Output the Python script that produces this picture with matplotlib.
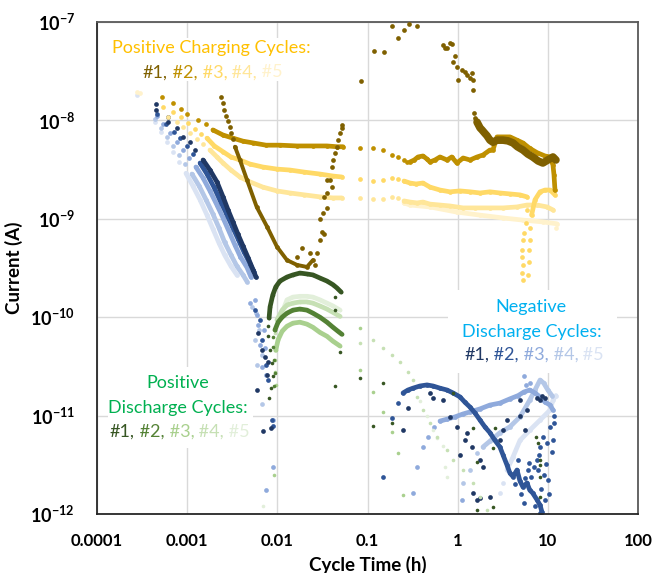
import numpy as np
import matplotlib
matplotlib.use("Agg")
import matplotlib.pyplot as plt
from matplotlib.patches import Rectangle

plt.rcParams['font.family'] = ['Lato', 'DejaVu Sans']
plt.rcParams['mathtext.fontset'] = 'custom'
plt.rcParams['mathtext.bf'] = 'Lato:bold'
plt.rcParams['mathtext.rm'] = 'Lato'

# ---------------- data: (cycle time in h, current in A) ----------------
# Positive charging cycles
chg1_dots = [(2.37e-3, 1.73e-8), (2.5e-3, 1.5e-8), (2.56e-3, 1.28e-8), (2.7e-3, 1.12e-8),
             (2.84e-3, 9.8e-9), (2.97e-3, 8.5e-9), (3.06e-3, 7.4e-9), (3.22e-3, 6.4e-9),
             (2.75e-2, 4.5e-10), (2.97e-2, 6.1e-10), (3.1e-2, 7.3e-10), (3.21e-2, 1.15e-9),
             (3.55e-2, 1.3e-9), (3.3e-2, 1.67e-9), (3.6e-2, 1.83e-9), (3.55e-2, 2.5e-9),
             (3.84e-2, 2.5e-9), (4.04e-2, 3.36e-9), (4.14e-2, 3.96e-9), (4.36e-2, 4.7e-9),
             (4.59e-2, 5.4e-9), (4.7e-2, 6.3e-9), (4.95e-2, 7.4e-9), (5.2e-2, 8.4e-9),
             (5.2e-2, 9.0e-9), (1.65e-2, 4.1e-10), (1.9e-2, 5.1e-10), (2.3e-2, 4.5e-10),
             (3.0e-2, 1.0e-9), (3.3e-2, 7.0e-10), (4.0e-2, 2.1e-9), (2.6e-2, 3.4e-10),
             (8.5e-2, 2.51e-8), (0.118, 5.1e-8), (0.152, 5.0e-8), (0.187, 9.1e-8),
             (0.218, 6.9e-8), (0.254, 8.3e-8), (0.288, 9.5e-8), (0.354, 9.1e-8),
             (0.687, 5.8e-8), (0.72, 5.5e-8), (0.762, 5.4e-8), (0.822, 6.1e-8),
             (0.86, 6.0e-8), (0.933, 4.5e-8), (0.887, 3.9e-8), (0.98, 3.5e-8),
             (1.01, 2.57e-8), (1.12, 3.25e-8), (1.2, 3.1e-8), (1.27, 2.89e-8),
             (1.37, 2.7e-8), (1.44, 3.03e-8), (1.48, 2.57e-8), (1.48, 2.04e-8),
             (1.52, 1.19e-8), (1.56, 1.06e-8), (1.6, 1.0e-8)]
chg1_curves = [
    [(3.39e-3, 5.4e-9), (3.85e-3, 3.96e-9), (4.61e-3, 2.48e-9), (5.9e-3, 1.32e-9),
     (7.7e-3, 8.3e-10), (9.9e-3, 5.2e-10), (1.28e-2, 3.8e-10), (1.65e-2, 3.4e-10),
     (2.13e-2, 3.24e-10), (2.48e-2, 3.8e-10)],
]
chg1_late = [(1.64, 9.6e-9), (1.77, 8.4e-9), (1.86, 8.0e-9), (2.0, 7.4e-9), (2.11, 7.0e-9),
             (2.28, 6.3e-9), (2.46, 6.0e-9), (2.73, 6.3e-9), (3.18, 6.3e-9), (3.6, 6.2e-9),
             (4.11, 5.9e-9), (4.6, 5.4e-9), (5.3, 5.0e-9), (6.0, 4.55e-9), (6.8, 4.25e-9),
             (7.8, 3.87e-9), (8.8, 3.69e-9), (10.0, 3.96e-9), (11.4, 4.25e-9), (12.3, 3.96e-9)]
chg2_dots = [(5.26e-4, 1.73e-8), (7.0e-4, 1.5e-8), (8.5e-4, 1.31e-8), (1.0e-3, 1.16e-8),
             (1.32e-3, 1.01e-8), (1.62e-3, 9.2e-9),
             (8.3e-2, 5.2e-9), (0.115, 5.2e-9), (0.149, 5.0e-9), (0.187, 4.45e-9),
             (0.218, 4.25e-9), (0.254, 3.96e-9), (0.274, 3.78e-9)]
chg2_curves = [
    [(1.93e-3, 8.0e-9), (2.5e-3, 7.1e-9), (3.22e-3, 6.6e-9), (4.16e-3, 6.15e-9),
     (5.4e-3, 5.9e-9), (7.5e-3, 5.6e-9), (1.07e-2, 5.6e-9), (1.65e-2, 5.5e-9),
     (2.48e-2, 5.5e-9), (3.55e-2, 5.5e-9), (4.59e-2, 5.4e-9), (5.35e-2, 5.4e-9)],
    [(0.296, 3.78e-9), (0.33, 3.96e-9), (0.363, 4.25e-9), (0.412, 4.35e-9), (0.457, 4.05e-9),
     (0.493, 3.78e-9), (0.56, 3.96e-9), (0.637, 4.25e-9), (0.762, 3.96e-9), (0.86, 4.25e-9),
     (0.98, 3.69e-9), (1.15, 4.15e-9), (1.37, 3.96e-9), (1.64, 4.25e-9), (1.91, 4.45e-9),
     (2.28, 5.0e-9), (2.46, 5.0e-9), (2.73, 6.8e-9), (3.18, 6.8e-9), (3.8, 6.8e-9),
     (4.55, 6.3e-9), (5.3, 5.9e-9), (6.3, 5.2e-9), (7.6, 4.7e-9), (9.3, 4.35e-9),
     (10.6, 4.25e-9), (11.4, 3.52e-9), (11.7, 2.8e-9), (12.0, 1.96e-9)],
]
chg3_dots = [(5.4e-4, 1.37e-8), (7.0e-4, 1.22e-8), (8.5e-4, 1.08e-8), (1.03e-3, 9.4e-9),
             (1.22e-3, 8.2e-9), (1.43e-3, 7.3e-9),
             (8.3e-2, 2.54e-9), (0.115, 2.42e-9), (0.149, 2.48e-9), (0.187, 2.6e-9),
             (0.218, 2.54e-9),
             (5.87, 1.23e-9), (5.7, 9.1e-10), (5.44, 7.2e-10), (5.3, 6.1e-10), (5.17, 4.8e-10),
             (5.17, 4.1e-10), (5.3, 3.4e-10), (5.17, 2.81e-10), (5.3, 2.39e-10), (6.0, 2.69e-10),
             (6.2, 3.6e-10), (6.2, 4.8e-10), (6.3, 6.1e-10), (6.3, 8.0e-10)]
chg3_curves = [
    [(1.66e-3, 6.6e-9), (2.0e-3, 5.5e-9), (2.5e-3, 4.8e-9), (3.06e-3, 4.25e-9),
     (3.85e-3, 3.96e-9), (4.98e-3, 3.6e-9), (6.9e-3, 3.36e-9), (9.9e-3, 3.2e-9),
     (1.38e-2, 3.13e-9), (2.0e-2, 2.98e-9), (2.97e-2, 2.85e-9), (4.14e-2, 2.72e-9),
     (5.2e-2, 2.66e-9)],
    [(0.254, 2.42e-9), (0.296, 2.31e-9), (0.345, 2.26e-9), (0.412, 2.31e-9), (0.493, 2.1e-9),
     (0.637, 1.96e-9), (0.822, 1.88e-9), (1.06, 1.92e-9), (1.37, 1.88e-9), (1.77, 1.83e-9),
     (2.28, 1.88e-9), (2.94, 1.83e-9), (3.8, 1.79e-9), (4.91, 1.75e-9), (5.87, 1.67e-9)],
    [(6.6, 1.09e-9), (7.2, 1.56e-9), (8.2, 1.88e-9), (9.3, 1.96e-9), (10.6, 1.96e-9),
     (12.0, 1.75e-9)],
]
chg4_dots = [(6.1e-4, 1.08e-8), (7.7e-4, 9.6e-9), (9.0e-4, 8.6e-9), (1.07e-3, 7.4e-9),
             (1.29e-3, 6.5e-9), (1.5e-3, 5.8e-9),
             (8.3e-2, 1.63e-9), (0.115, 1.59e-9), (0.149, 1.59e-9), (0.187, 1.67e-9),
             (0.218, 1.63e-9)]
chg4_curves = [
    [(1.79e-3, 5.0e-9), (2.14e-3, 4.25e-9), (2.5e-3, 3.69e-9), (3.06e-3, 3.13e-9),
     (3.85e-3, 2.66e-9), (4.98e-3, 2.37e-9), (6.9e-3, 2.1e-9), (9.9e-3, 1.92e-9),
     (1.38e-2, 1.83e-9), (2.0e-2, 1.75e-9), (2.97e-2, 1.67e-9), (4.14e-2, 1.63e-9),
     (5.2e-2, 1.63e-9)],
    [(0.254, 1.52e-9), (0.296, 1.48e-9), (0.354, 1.45e-9), (0.412, 1.48e-9), (0.493, 1.41e-9),
     (0.637, 1.38e-9), (0.822, 1.35e-9), (1.15, 1.29e-9), (1.56, 1.29e-9), (2.28, 1.29e-9),
     (3.18, 1.29e-9), (4.55, 1.32e-9), (5.87, 1.38e-9), (7.6, 1.38e-9), (9.8, 1.32e-9),
     (11.4, 1.23e-9)],
]
chg5_dots = [(2.78e-4, 1.94e-8), (3.0e-4, 1.9e-8), (12.3, 8.0e-10)]
chg5_curves = [
    [(0.254, 1.45e-9), (0.296, 1.38e-9), (0.493, 1.32e-9), (0.98, 1.17e-9), (1.77, 1.09e-9),
     (3.18, 1.02e-9), (5.3, 9.7e-10), (8.8, 9.3e-10), (12.6, 8.9e-10)],
]

# Positive discharge cycles
pdis1_dots = [(8.9e-3, 2.5e-11), (8.7e-3, 3.4e-11), (8.3e-3, 4.6e-11), (7.9e-3, 6.5e-11),
              (7.9e-3, 8.1e-11), (8.5e-3, 1.9e-11), (8.0e-3, 1.5e-11),
              (4.36e-2, 1.6e-10), (4.36e-2, 1.18e-10), (4.95e-2, 4.4e-11),
              (4.36e-2, 2.0e-11), (8.3e-2, 2.4e-11), (0.149, 2.14e-11), (0.115, 7.8e-12),
              (0.187, 8.4e-12), (0.887, 1.7e-11), (1.48, 7.5e-12), (1.64, 3.4e-12),
              (2.46, 4.7e-12), (2.59, 7.5e-12), (8.2, 3.5e-12), (8.2, 2.4e-12),
              (8.2, 1.49e-12), (1.64, 1.1e-12), (2.46, 1.18e-12), (8.2, 3.15e-12),
              (7.4, 6.1e-12), (7.8, 5.3e-12)]
pdis1_curves = [
    [(8.1e-3, 9.8e-11), (8.3e-3, 1.27e-10), (8.9e-3, 1.68e-10), (9.6e-3, 2.03e-10),
     (1.07e-2, 2.33e-10), (1.28e-2, 2.56e-10), (1.49e-2, 2.69e-10), (1.78e-2, 2.81e-10),
     (2.13e-2, 2.75e-10), (2.48e-2, 2.69e-10), (2.97e-2, 2.5e-10), (3.55e-2, 2.33e-10),
     (4.14e-2, 2.14e-10), (4.59e-2, 1.98e-10), (5.1e-2, 1.8e-10)],
]
pdis2_dots = [(9.4e-3, 2.7e-11), (9.1e-3, 3.7e-11), (8.9e-3, 5.0e-11), (8.9e-3, 6.3e-11),
              (9.2e-3, 2.0e-11)]
pdis2_curves = [
    [(9.4e-3, 7.4e-11), (1.02e-2, 8.9e-11), (1.13e-2, 1.0e-10), (1.28e-2, 1.1e-10),
     (1.49e-2, 1.18e-10), (1.78e-2, 1.21e-10), (2.13e-2, 1.18e-10), (2.48e-2, 1.1e-10),
     (2.97e-2, 1.0e-10), (3.55e-2, 8.9e-11), (4.14e-2, 7.9e-11), (4.7e-2, 7.2e-11),
     (5.2e-2, 6.7e-11)],
]
pdis3_dots = [(9.6e-3, 2.05e-11), (9.4e-3, 2.8e-11), (9.4e-3, 3.7e-11), (9.1e-3, 2.5e-12),
              (8.3e-2, 2.9e-11), (0.115, 1.74e-11), (0.149, 1.09e-11), (0.187, 6.8e-12),
              (0.218, 4.2e-12), (0.248, 1.56e-12), (8.3e-2, 7.8e-11)]
pdis3_curves = [
    [(9.6e-3, 4.6e-11), (1.02e-2, 5.9e-11), (1.13e-2, 7.2e-11), (1.28e-2, 8.1e-11),
     (1.49e-2, 8.7e-11), (1.78e-2, 8.9e-11), (2.13e-2, 8.5e-11), (2.48e-2, 7.9e-11),
     (2.97e-2, 7.0e-11), (3.55e-2, 6.4e-11), (4.14e-2, 5.7e-11), (4.95e-2, 5.1e-11)],
]
pdis4_dots = [(9.6e-3, 5.2e-11), (9.4e-3, 6.9e-11),
              (8.3e-2, 5.5e-11), (0.115, 5.9e-11), (0.149, 4.9e-11), (0.187, 4.1e-11),
              (0.229, 3.5e-11), (0.281, 2.8e-11), (0.319, 2.3e-11), (0.354, 1.55e-11),
              (0.412, 1.14e-11), (0.493, 8.4e-12), (0.59, 6.1e-12), (0.762, 4.5e-12),
              (0.887, 3.5e-12), (1.15, 2.8e-12), (1.48, 2.07e-12), (1.77, 1.49e-12),
              (2.11, 1.1e-12)]
pdis4_curves = [
    [(9.9e-3, 9.4e-11), (1.13e-2, 1.18e-10), (1.28e-2, 1.33e-10), (1.49e-2, 1.39e-10),
     (1.78e-2, 1.43e-10), (2.13e-2, 1.43e-10), (2.48e-2, 1.39e-10), (2.97e-2, 1.3e-10),
     (3.55e-2, 1.21e-10), (4.14e-2, 1.12e-10), (4.95e-2, 1.02e-10)],
]
pdis5_dots = [(6.9e-3, 1.2e-12), (0.382, 1.4e-11), (0.457, 1.0e-11), (0.532, 7.1e-12),
              (0.59, 5.9e-12), (0.687, 4.9e-12), (0.72, 3.0e-12), (0.762, 2.4e-12)]
pdis5_curves = [
    [(1.07e-2, 9.8e-11), (1.28e-2, 1.5e-10), (1.49e-2, 1.6e-10), (1.78e-2, 1.63e-10),
     (2.13e-2, 1.63e-10), (2.48e-2, 1.6e-10), (2.97e-2, 1.5e-10), (3.55e-2, 1.39e-10),
     (4.14e-2, 1.3e-10), (4.95e-2, 1.18e-10)],
]

# Negative discharge cycles
ndis1_dots = [(4.5e-4, 1.47e-8), (4.5e-4, 1.28e-8), (6.1e-4, 1.08e-8), (6.1e-4, 9.6e-9),
              (7.7e-4, 8.4e-9), (9.0e-4, 6.8e-9), (1.07e-3, 6.0e-9), (1.22e-3, 5.0e-9),
              (6.1e-3, 6.9e-11), (6.8e-3, 4.6e-11), (7.3e-3, 3.9e-11), (7.9e-3, 3.5e-11),
              (7.7e-3, 2.6e-11), (5.9e-3, 1.82e-11), (6.9e-3, 6.9e-12), (8.5e-3, 7.5e-12),
              (0.248, 7.1e-12), (0.281, 1.19e-11), (0.493, 1.7e-11), (0.53, 1.51e-11),
              (0.687, 1.44e-11), (0.822, 9.7e-12), (0.98, 7.7e-12), (1.27, 6.7e-12),
              (1.06, 4.0e-12), (1.44, 4.8e-12), (1.2, 5.6e-12), (1.77, 3.5e-12),
              (1.91, 3.0e-12), (1.48, 1.63e-12), (1.77, 1.46e-12), (2.28, 1.49e-12),
              (2.94, 5.6e-12), (3.52, 9.0e-12), (3.18, 7.1e-12), (4.91, 1.44e-11),
              (5.87, 1.14e-11), (8.2, 1.44e-11), (8.6, 1.6e-11), (7.6, 1.51e-11),
              (9.3, 1.51e-11), (4.91, 1.0e-11), (5.6, 7.1e-12), (1.64, 1.39e-12)]
ndis1_curves = [
    [(1.5e-3, 3.96e-9), (1.79e-3, 3.13e-9), (2.14e-3, 2.37e-9), (2.5e-3, 1.67e-9),
     (2.84e-3, 1.23e-9), (3.22e-3, 9.3e-10), (3.65e-3, 7.0e-10), (4.16e-3, 5.3e-10),
     (4.75e-3, 4.0e-10), (5.4e-3, 3.0e-10), (5.8e-3, 2.56e-10)],
]
ndis2_dots = [(4.6e-4, 1.16e-8), (5.8e-4, 9.2e-9), (7.2e-4, 7.6e-9), (8.3e-4, 6.6e-9),
              (1.0e-3, 5.5e-9), (1.16e-3, 4.55e-9),
              (5.6e-3, 1.18e-10), (6.4e-3, 9.4e-11), (6.8e-3, 5.9e-11), (7.5e-3, 3.3e-11),
              (7.9e-3, 2.3e-11), (8.7e-3, 9.0e-12), (8.9e-3, 7.8e-12),
              (0.149, 2.4e-12), (0.187, 9.5e-12), (0.218, 1.34e-11),
              (7.6, 3.5e-12), (8.2, 4.8e-12), (8.8, 6.1e-12), (9.8, 5.3e-12), (10.6, 7.7e-12),
              (11.4, 5.6e-12), (11.1, 4.3e-12), (9.0, 2.5e-12), (8.4, 1.8e-12), (7.8, 2.8e-12),
              (6.0, 2.8e-12), (5.6, 2.3e-12), (4.7, 3.5e-12), (4.3, 2.0e-12), (9.3, 1.39e-12),
              (8.2, 1.02e-12), (5.0, 1.6e-12), (5.5, 1.3e-12), (6.5, 2.4e-12), (7.0, 3.0e-12),
              (7.2, 1.2e-12), (8.0, 4.0e-12), (9.5, 3.2e-12), (10.0, 2.2e-12), (10.4, 1.6e-12),
              (6.2, 3.3e-12), (4.5, 2.6e-12), (11.8, 8.5e-12), (11.6, 1.0e-11)]
ndis2_curves = [
    [(1.39e-3, 3.69e-9), (1.66e-3, 2.85e-9), (1.98e-3, 2.1e-9), (2.3e-3, 1.56e-9),
     (2.7e-3, 1.15e-9), (3.14e-3, 8.5e-10), (3.65e-3, 6.3e-10), (4.27e-3, 4.6e-10),
     (4.98e-3, 3.5e-10), (5.5e-3, 2.9e-10)],
    [(0.248, 1.7e-11), (0.281, 1.82e-11), (0.319, 1.9e-11), (0.382, 2.0e-11), (0.457, 2.05e-11),
     (0.532, 2.0e-11), (0.637, 1.9e-11), (0.762, 1.82e-11), (0.887, 1.7e-11), (1.06, 1.55e-11),
     (1.2, 1.37e-11), (1.37, 1.22e-11), (1.56, 1.06e-11), (1.77, 9.0e-12), (2.0, 7.7e-12),
     (2.28, 6.7e-12), (2.59, 5.6e-12), (2.94, 4.8e-12), (3.18, 4.0e-12), (3.52, 3.15e-12),
     (3.8, 2.6e-12), (4.11, 2.4e-12), (4.55, 2.8e-12), (4.91, 2.16e-12), (5.3, 1.88e-12),
     (5.87, 2.07e-12), (6.3, 1.75e-12), (6.8, 1.63e-12), (7.6, 1.39e-12), (8.2, 1.23e-12),
     (8.6, 1.05e-12)],
]
ndis3_dots = [(4.6e-4, 1.11e-8), (5.4e-4, 9.2e-9), (6.5e-4, 7.4e-9), (7.7e-4, 6.0e-9),
              (9.0e-4, 5.0e-9), (1.05e-3, 4.15e-9),
              (5.0e-3, 1.39e-10), (5.6e-3, 1.5e-10), (5.9e-3, 1.05e-10), (6.1e-3, 8.3e-11),
              (7.1e-3, 7.4e-11), (6.4e-3, 5.2e-11), (7.3e-3, 4.9e-11), (6.8e-3, 3.1e-11),
              (7.5e-3, 2.6e-11), (8.9e-3, 9.0e-12), (8.9e-3, 3.0e-12), (7.5e-3, 1.75e-12),
              (0.319, 1.63e-12), (0.354, 3.0e-12), (0.412, 4.8e-12), (0.47, 6.1e-12),
              (0.545, 7.7e-12), (5.44, 2.5e-11), (5.7, 2.05e-11), (6.3, 2.14e-11),
              (1.12, 1.39e-12)]
ndis3_curves = [
    [(1.25e-3, 3.36e-9), (1.5e-3, 2.6e-9), (1.79e-3, 1.92e-9), (2.14e-3, 1.38e-9),
     (2.5e-3, 1.02e-9), (2.9e-3, 7.5e-10), (3.39e-3, 5.4e-10), (3.9e-3, 4.1e-10),
     (4.61e-3, 3.2e-10), (5.1e-3, 2.56e-10)],
    [(0.637, 8.8e-12), (0.762, 9.2e-12), (0.933, 9.7e-12), (1.15, 1.04e-11), (1.37, 1.09e-11),
     (1.77, 1.17e-11), (2.28, 1.28e-11), (2.94, 1.34e-11), (3.8, 1.48e-11), (4.7, 1.6e-11),
     (5.44, 1.74e-11), (6.3, 1.82e-11), (7.2, 1.7e-11), (8.2, 1.55e-11), (9.3, 1.37e-11),
     (10.6, 1.28e-11), (11.4, 1.14e-11)],
]
ndis4_dots = [(4.4e-4, 1.04e-8), (5.1e-4, 8.4e-9), (6.0e-4, 6.8e-9), (7.0e-4, 5.5e-9),
              (8.1e-4, 4.45e-9), (9.5e-4, 3.6e-9),
              (5.2e-3, 1.27e-10), (5.75e-3, 1.1e-10), (6.2e-3, 7.4e-11), (5.6e-3, 5.9e-11),
              (6.8e-3, 4.1e-11), (5.9e-3, 3.3e-11), (6.8e-3, 1.3e-11),
              (1.15, 2.07e-12), (1.37, 2.8e-12), (1.64, 4.2e-12)]
ndis4_curves = [
    [(1.13e-3, 2.85e-9), (1.36e-3, 2.15e-9), (1.62e-3, 1.56e-9), (1.93e-3, 1.12e-9),
     (2.25e-3, 8.1e-10), (2.6e-3, 5.8e-10), (3.06e-3, 4.3e-10), (3.56e-3, 3.3e-10),
     (4.16e-3, 2.69e-10), (4.61e-3, 2.3e-10)],
    [(1.91, 4.8e-12), (2.28, 5.5e-12), (2.94, 6.7e-12), (3.8, 7.7e-12), (4.91, 9.7e-12),
     (5.6, 1.19e-11), (6.3, 1.44e-11), (7.2, 1.82e-11), (8.2, 2.3e-11), (9.0, 2.14e-11),
     (10.0, 1.82e-11), (11.1, 1.6e-11)],
]
ndis5_dots = [(2.78e-4, 1.8e-8), (4.4e-4, 9.6e-9), (5.1e-4, 7.6e-9), (6.0e-4, 6.0e-9),
              (7.0e-4, 4.8e-9), (8.1e-4, 3.78e-9),
              (2.94, 1.63e-12), (3.18, 2.07e-12)]
ndis5_curves = [
    [(9.7e-4, 2.9e-9), (1.16e-3, 2.15e-9), (1.39e-3, 1.56e-9), (1.66e-3, 1.09e-9),
     (1.93e-3, 7.9e-10), (2.25e-3, 5.7e-10), (2.6e-3, 4.3e-10), (3.06e-3, 3.3e-10),
     (3.56e-3, 2.69e-10)],
    [(3.52, 2.8e-12), (4.11, 3.8e-12), (4.91, 5.6e-12), (6.3, 7.1e-12), (8.2, 9.0e-12),
     (10.6, 1.14e-11), (11.4, 1.44e-11), (12.3, 1.6e-11)],
]

x_ticks = [1e-4, 1e-3, 1e-2, 1e-1, 1, 10, 100]
x_ticklabels = ['0.0001', '0.001', '0.01', '0.1', '1', '10', '100']
y_ticks = [1e-12, 1e-11, 1e-10, 1e-9, 1e-8, 1e-7]
y_ticklabels = [r'$\mathbf{10^{-%d}}$' % k for k in (12, 11, 10, 9, 8, 7)]

gold = ['#7F6000', '#BF9000', '#FFD966', '#FFE699', '#FFF2CC']
green = ['#375623', '#548235', '#A9D08E', '#C6E0B4', '#E2EFDA']
blue = ['#203864', '#2F5597', '#8FAADC', '#B4C7E7', '#DAE3F3']

# ---------------- figure ----------------
fig = plt.figure(figsize=(6.52, 5.73), dpi=100)
ax = fig.add_axes([97 / 652, 1 - 514 / 573, 541 / 652, 492 / 573])
ax.set_xscale('log')
ax.set_yscale('log')
ax.set_xlim(1e-4, 100)
ax.set_ylim(1e-12, 1e-7)
ax.set_axisbelow(True)
ax.grid(True, which='major', color='#D9D9D9', lw=1.0)
ax.minorticks_off()


def draw(dots, curves, color, ms=3.4, lw=3.4, z=2):
    for c in curves:
        t, i = zip(*c)
        ax.plot(t, i, '-', color=color, lw=lw, solid_capstyle='round',
                solid_joinstyle='round', zorder=z)
        ax.plot(t, i, 'o', color=color, ms=ms, mec='none', zorder=z)
    if dots:
        t, i = zip(*dots)
        ax.plot(t, i, 'o', color=color, ms=ms, mec='none', linestyle='none', zorder=z)


draw(ndis5_dots, ndis5_curves, blue[4], z=2.0)
draw(ndis4_dots, ndis4_curves, blue[3], z=2.1)
draw(ndis3_dots, ndis3_curves, blue[2], z=2.2)
draw(ndis2_dots, ndis2_curves, blue[1], z=2.3)
draw(ndis1_dots, ndis1_curves, blue[0], z=2.4)

draw(pdis5_dots, pdis5_curves, green[4], ms=2.6, z=2.5)
draw(pdis4_dots, pdis4_curves, green[3], ms=2.6, z=2.6)
draw(pdis3_dots, pdis3_curves, green[2], ms=2.6, z=2.7)
draw(pdis2_dots, pdis2_curves, green[1], ms=2.6, z=2.8)
draw(pdis1_dots, pdis1_curves, green[0], ms=2.6, z=2.9)

draw(chg5_dots, chg5_curves, gold[4], z=3.0)
draw(chg4_dots, chg4_curves, gold[3], z=3.1)
draw(chg3_dots, chg3_curves, gold[2], z=3.2)
draw(chg2_dots, chg2_curves, gold[1], z=3.3)
draw(chg1_dots, chg1_curves, gold[0], lw=2.8, z=3.4)
draw([], [chg1_late], gold[0], lw=5.5, z=3.4)

ax.set_xticks(x_ticks)
ax.set_xticklabels(x_ticklabels, fontsize=12, fontweight='bold')
ax.set_yticks(y_ticks)
ax.set_yticklabels(y_ticklabels, fontsize=13)
ax.tick_params(axis='both', length=0)
ax.tick_params(axis='x', pad=14)
ax.tick_params(axis='y', pad=16)
ax.set_xlabel('Cycle Time (h)', fontsize=13.5, fontweight='bold', labelpad=5)
ax.set_ylabel('Current (A)', fontsize=13.5, fontweight='bold', labelpad=5)
for side in ['left', 'bottom']:
    ax.spines[side].set_color('#262626')
    ax.spines[side].set_linewidth(1.3)
for side in ['top', 'right']:
    ax.spines[side].set_color('#595959')
    ax.spines[side].set_linewidth(1.3)

# white boxes behind the annotations (they hide the gridlines)
for (x0, y0, w, h) in [(0.015, 0.880, 0.40, 0.087), (0.020, 0.134, 0.268, 0.165),
                       (0.649, 0.287, 0.312, 0.168)]:
    ax.add_patch(Rectangle((x0, y0), w, h, transform=ax.transAxes, facecolor='white',
                           edgecolor='none', zorder=1))

renderer = fig.canvas.get_renderer()


def text_width(s, size):
    t = ax.text(0, 0, s, fontsize=size, transform=ax.transAxes)
    w = t.get_window_extent(renderer).width
    t.remove()
    return w


def colored_line(xc, yc, pieces, size=13):
    full = ''
    starts = []
    for s, c in pieces:
        full = full + s
        starts.append(text_width(full, size) - text_width(s, size))
    total = text_width(full, size)
    x0_disp, y_disp = ax.transAxes.transform((xc, yc))
    x0_disp -= total / 2
    inv = ax.transAxes.inverted()
    for (s, c), st in zip(pieces, starts):
        xa, ya = inv.transform((x0_disp + st, y_disp))
        ax.text(xa, ya, s, color=c, fontsize=size, ha='left', va='center',
                transform=ax.transAxes, zorder=6)


def nums(cols):
    return [('#1,', cols[0]), (' #2,', cols[1]), (' #3,', cols[2]),
            (' #4,', cols[3]), (' #5', cols[4])]


ax.text(0.212, 0.947, 'Positive Charging Cycles:', color='#FFC000', fontsize=13,
        ha='center', va='center', transform=ax.transAxes, zorder=6)
colored_line(0.214, 0.898, nums(gold))

ax.text(0.150, 0.266, 'Positive', color='#00B050', fontsize=13,
        ha='center', va='center', transform=ax.transAxes, zorder=6)
ax.text(0.150, 0.215, 'Discharge Cycles:', color='#00B050', fontsize=13,
        ha='center', va='center', transform=ax.transAxes, zorder=6)
colored_line(0.153, 0.167, nums(green))

ax.text(0.802, 0.421, 'Negative', color='#00B0F0', fontsize=13,
        ha='center', va='center', transform=ax.transAxes, zorder=6)
ax.text(0.804, 0.370, 'Discharge Cycles:', color='#00B0F0', fontsize=13,
        ha='center', va='center', transform=ax.transAxes, zorder=6)
colored_line(0.808, 0.323, nums(blue))

fig.savefig('out.png', dpi=100)
